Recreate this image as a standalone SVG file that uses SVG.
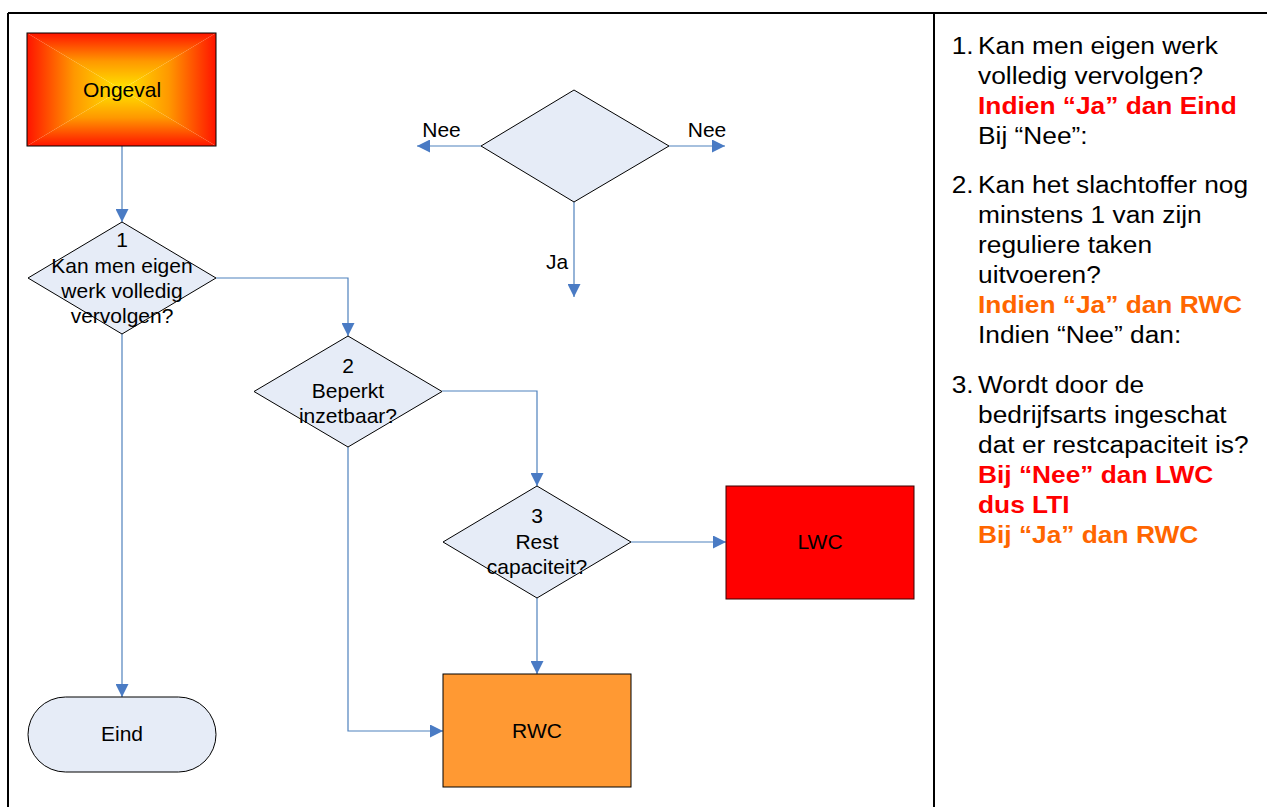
<svg xmlns="http://www.w3.org/2000/svg" width="1267" height="807" viewBox="0 0 1267 807">
<style>
text{font-family:"Liberation Sans",Arial,sans-serif;fill:#000}
.t{font-size:21px;text-anchor:middle}
.dm{fill:#E6ECF7;stroke:#000;stroke-width:1}
.c{fill:none;stroke:#4F81BD;stroke-width:1.2}
.lg{font-size:23.5px}
.b{font-weight:bold}
.red{fill:#FF0000}
.org{fill:#FF6600}
.frame{stroke:#000;stroke-width:2;fill:none}
</style>
<defs>
<marker id="ah" viewBox="0 0 13 13" refX="13" refY="6.5" markerWidth="13" markerHeight="13" markerUnits="userSpaceOnUse" orient="auto">
<path d="M0,0 L13,6.5 L0,13 z" fill="#4A7BC4"/>
</marker>
<linearGradient id="gT" gradientUnits="userSpaceOnUse" x1="0" y1="89.5" x2="0" y2="33">
<stop offset="0" stop-color="#FFE600"/><stop offset="0.5" stop-color="#FF9800"/><stop offset="1" stop-color="#FF1400"/>
</linearGradient>
<linearGradient id="gB" gradientUnits="userSpaceOnUse" x1="0" y1="89.5" x2="0" y2="146">
<stop offset="0" stop-color="#FFE600"/><stop offset="0.5" stop-color="#FF9800"/><stop offset="1" stop-color="#FF1400"/>
</linearGradient>
<linearGradient id="gL" gradientUnits="userSpaceOnUse" x1="121.5" y1="0" x2="27" y2="0">
<stop offset="0" stop-color="#FFE600"/><stop offset="0.5" stop-color="#FF9800"/><stop offset="1" stop-color="#FF1400"/>
</linearGradient>
<linearGradient id="gR" gradientUnits="userSpaceOnUse" x1="121.5" y1="0" x2="216" y2="0">
<stop offset="0" stop-color="#FFE600"/><stop offset="0.5" stop-color="#FF9800"/><stop offset="1" stop-color="#FF1400"/>
</linearGradient>
</defs>
<rect width="1267" height="807" fill="#fff"/>
<g id="frame">
<path class="frame" d="M8,13 H1267 M8,13 V807 M934,13 V807"/>
</g>
<g id="connectors">
<path class="c" d="M122,146 V222" marker-end="url(#ah)"/>
<path class="c" d="M216,278 H348 V336" marker-end="url(#ah)"/>
<path class="c" d="M442,391 H537 V486" marker-end="url(#ah)"/>
<path class="c" d="M631,542 H726" marker-end="url(#ah)"/>
<path class="c" d="M537,598 V674" marker-end="url(#ah)"/>
<path class="c" d="M348,447 V731 H443" marker-end="url(#ah)"/>
<path class="c" d="M122,334 V697" marker-end="url(#ah)"/>
<path class="c" d="M481,146 H417" marker-end="url(#ah)"/>
<path class="c" d="M669,146 H725" marker-end="url(#ah)"/>
<path class="c" d="M574,202 V297" marker-end="url(#ah)"/>
</g>
<g id="ongeval">
<polygon points="27,33 216,33 121.5,89.5" fill="url(#gT)"/>
<polygon points="27,146 216,146 121.5,89.5" fill="url(#gB)"/>
<polygon points="27,33 27,146 121.5,89.5" fill="url(#gL)"/>
<polygon points="216,33 216,146 121.5,89.5" fill="url(#gR)"/>
<rect x="27" y="33" width="189" height="113" fill="none" stroke="#000" stroke-width="1"/>
<text class="t" x="122" y="96.5">Ongeval</text>
</g>
<g id="d1">
<polygon class="dm" points="122,222 216,278 122,334 28,278"/>
<text class="t" x="122" y="247">1</text>
<text class="t" x="122" y="272.5">Kan men eigen</text>
<text class="t" x="122" y="297.5">werk volledig</text>
<text class="t" x="122" y="322.5">vervolgen?</text>
</g>
<g id="d2">
<polygon class="dm" points="348,336 442,391.5 348,447 254,391.5"/>
<text class="t" x="348" y="372.5">2</text>
<text class="t" x="348" y="398">Beperkt</text>
<text class="t" x="348" y="423">inzetbaar?</text>
</g>
<g id="d3">
<polygon class="dm" points="537,486 631,542 537,598 443,542"/>
<text class="t" x="537" y="523">3</text>
<text class="t" x="537" y="548.5">Rest</text>
<text class="t" x="537" y="573.5">capaciteit?</text>
</g>
<g id="lwc">
<rect x="726" y="486" width="188" height="113" fill="#FF0000" stroke="#3a0000" stroke-width="1"/>
<text class="t" x="820" y="549">LWC</text>
</g>
<g id="rwc">
<rect x="443" y="674" width="188" height="113" fill="#FF9933" stroke="#000" stroke-width="1"/>
<text class="t" x="537" y="738">RWC</text>
</g>
<g id="eind">
<rect x="28" y="697" width="188" height="75" rx="37.5" ry="37.5" class="dm"/>
<text class="t" x="122" y="741">Eind</text>
</g>
<g id="legend-diamond">
<polygon class="dm" points="574,90 669,146 574,202 481,146"/>
<text class="t" x="441.5" y="136.5">Nee</text>
<text class="t" x="707" y="136.5">Nee</text>
<text class="t" x="557" y="268.5">Ja</text>
</g>
<g id="legend" transform="translate(978 0) scale(1.12 1)">
<text class="lg" x="-23.5" y="54">1.</text>
<text class="lg" x="0" y="54">Kan men eigen werk</text>
<text class="lg" x="0" y="84">volledig vervolgen?</text>
<text class="lg b red" x="0" y="114">Indien “Ja” dan Eind</text>
<text class="lg" x="0" y="144.5">Bij “Nee”:</text>
<text class="lg" x="-23.5" y="193">2.</text>
<text class="lg" x="0" y="193">Kan het slachtoffer nog</text>
<text class="lg" x="0" y="223">minstens 1 van zijn</text>
<text class="lg" x="0" y="253">reguliere taken</text>
<text class="lg" x="0" y="283">uitvoeren?</text>
<text class="lg b org" x="0" y="313">Indien “Ja” dan RWC</text>
<text class="lg" x="0" y="343">Indien “Nee” dan:</text>
<text class="lg" x="-23.5" y="393">3.</text>
<text class="lg" x="0" y="393">Wordt door de</text>
<text class="lg" x="0" y="423">bedrijfsarts ingeschat</text>
<text class="lg" x="0" y="453">dat er restcapaciteit is?</text>
<text class="lg b red" x="0" y="483">Bij “Nee” dan LWC</text>
<text class="lg b red" x="0" y="513">dus LTI</text>
<text class="lg b org" x="0" y="543">Bij “Ja” dan RWC</text>
</g>
</svg>
